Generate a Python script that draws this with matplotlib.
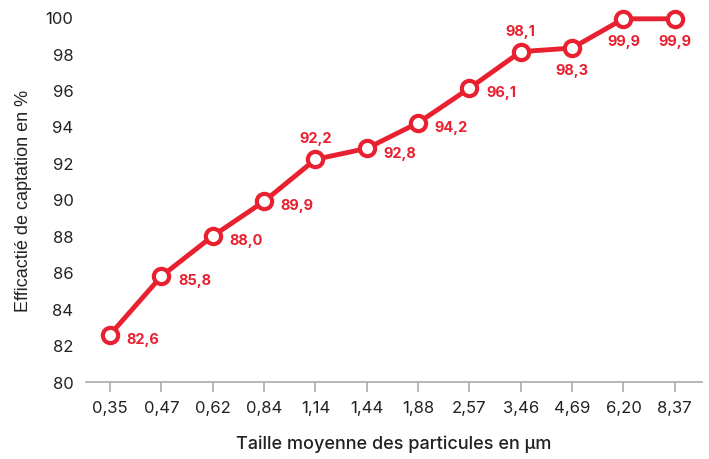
import matplotlib
matplotlib.use("Agg")
import matplotlib.pyplot as plt

# data
sizes = ["0,35", "0,47", "0,62", "0,84", "1,14", "1,44", "1,88", "2,57", "3,46", "4,69", "6,20", "8,37"]
efficiency = [82.6, 85.8, 88.0, 89.9, 92.2, 92.8, 94.2, 96.1, 98.1, 98.3, 99.9, 99.9]
label_pos = ["right", "right", "right", "right", "above", "right", "right", "right", "above", "below", "below", "below"]
y_ticks = [80, 82, 84, 86, 88, 90, 92, 94, 96, 98, 100]

red = "#e8202f"
grey = "#aaaaaa"
text_col = "#222222"

plt.rcParams["font.family"] = ["Inter", "DejaVu Sans"]

fig = plt.figure(figsize=(7.09, 4.60), dpi=100)
ax = fig.add_axes([86 / 709, 77 / 460, 616 / 709, 365 / 460])

x = list(range(len(sizes)))
ax.plot(x, efficiency, color=red, lw=3.5, marker="o", markersize=11,
        markerfacecolor="white", markeredgecolor=red, markeredgewidth=3,
        clip_on=False, zorder=3)

# data labels
for xi, v, pos in zip(x, efficiency, label_pos):
    txt = ("%.1f" % v).replace(".", ",")
    if pos == "right":
        ax.annotate(txt, (xi, v), xytext=(12, -3), textcoords="offset points",
                    ha="left", va="center", color=red, fontsize=10.5, fontweight="bold")
    elif pos == "above":
        ax.annotate(txt, (xi, v), xytext=(0, 10), textcoords="offset points",
                    ha="center", va="bottom", color=red, fontsize=10.5, fontweight="bold")
    else:
        ax.annotate(txt, (xi, v), xytext=(0, -11), textcoords="offset points",
                    ha="center", va="top", color=red, fontsize=10.5, fontweight="bold")

ax.set_xlim(-0.47, 11.53)
ax.set_ylim(80, 100)
ax.set_xticks(x)
ax.set_xticklabels(sizes)
ax.set_yticks(y_ticks)

for s in ["top", "right", "left"]:
    ax.spines[s].set_visible(False)
ax.spines["bottom"].set_color(grey)
ax.spines["bottom"].set_linewidth(1.2)

ax.tick_params(axis="x", length=7, width=1.2, color=grey, labelsize=12, labelcolor=text_col, pad=6)
ax.tick_params(axis="y", length=0, labelsize=12, labelcolor=text_col, pad=9)

ax.set_xlabel("Taille moyenne des particules en µm", fontsize=13, fontweight="medium",
              color=text_col, labelpad=14)
ax.set_ylabel("Efficactié de captation en %", fontsize=13, color=text_col, labelpad=10,
              family=["Liberation Sans", "DejaVu Sans"])

fig.savefig("out.png", dpi=100)
